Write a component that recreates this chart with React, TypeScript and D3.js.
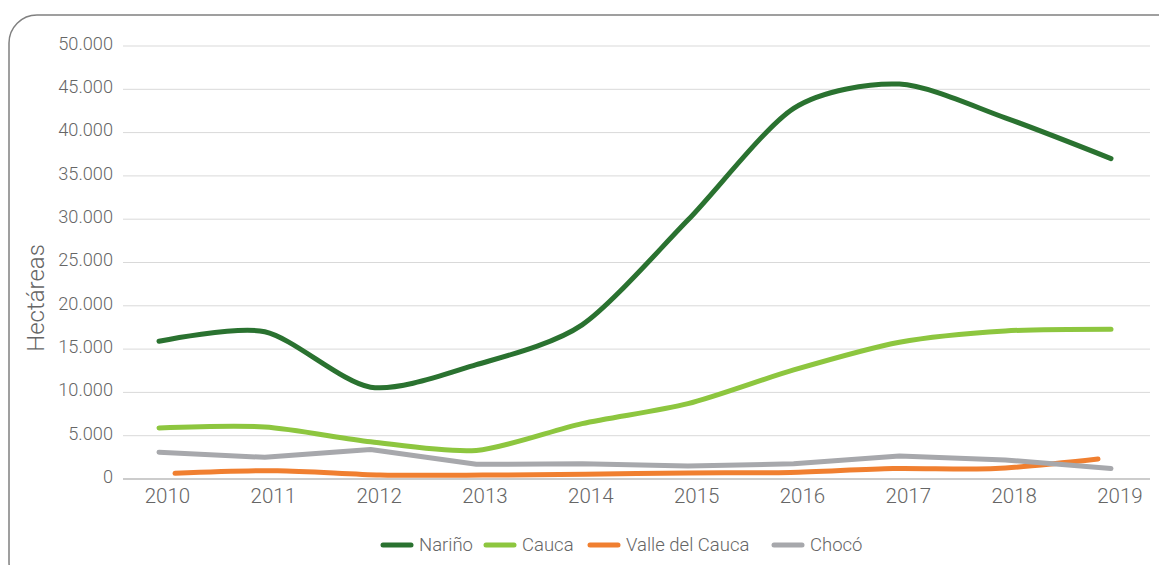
import React from "react";
import * as d3 from "d3";

const years = [2010, 2011, 2012, 2013, 2014, 2015, 2016, 2017, 2018, 2019];
const narino = [15900, 17000, 10600, 13200, 17800, 29900, 42800, 45600, 41700, 37000];
const cauca = [5900, 6000, 4300, 3300, 6400, 8700, 12600, 15800, 17100, 17300];
const valle = [660, 960, 460, 450, 550, 700, 750, 1200, 1200, 2300];
const choco = [3100, 2500, 3400, 1700, 1750, 1500, 1750, 2650, 2200, 1200];
const yTicks = [0, 5000, 10000, 15000, 20000, 25000, 30000, 35000, 40000, 45000, 50000];

const FONT = "Roboto, 'Liberation Sans', sans-serif";

export default function App() {
  const W = 1159, H = 565;
  const y = d3.scaleLinear().domain([0, 50000]).range([479, 46]);
  const xLabel = d3.scalePoint<number>().domain(years).range([167.5, 1120]);
  const xMain = d3.scalePoint<number>().domain(years).range([159, 1111]);
  const xValle = d3.scalePoint<number>().domain(years).range([175, 1098]);
  const fmt = (v: number) => d3.format(",")(v).replace(/,/g, ".");

  const smooth = (xs: d3.ScalePoint<number>, vals: number[]) =>
    d3.line<number>().x((_, i) => xs(years[i])!).y((v) => y(v)).curve(d3.curveCardinal.tension(0.2))(vals) || "";
  const straight = (xs: d3.ScalePoint<number>, vals: number[]) =>
    d3.line<number>().x((_, i) => xs(years[i])!).y((v) => y(v)).curve(d3.curveLinear)(vals) || "";

  const series = [
    { name: "Nariño", color: "#2a7230", d: smooth(xMain, narino) },
    { name: "Cauca", color: "#8dc63f", d: smooth(xMain, cauca) },
    { name: "Valle del Cauca", color: "#f07f30", d: smooth(xValle, valle) },
    { name: "Chocó", color: "#a7a8ac", d: straight(xMain, choco) },
  ];
  const legend = [
    { name: "Nariño", color: "#2a7230", x: 383 },
    { name: "Cauca", color: "#8dc63f", x: 486 },
    { name: "Valle del Cauca", color: "#f07f30", x: 590 },
    { name: "Chocó", color: "#a7a8ac", x: 774 },
  ];

  return (
    <svg width={W} height={H} style={{ position: "absolute", left: 0, top: 0, display: "block" }}>
      <rect x={0} y={0} width={W} height={H} fill="#fff" />
      <rect x={9} y={15} width={1180} height={575} rx={28} ry={28} fill="none" stroke="#808080" strokeWidth={1.5} />
      {yTicks.map((t) => (
        <g key={t}>
          {t > 0 && <line x1={123} x2={1150} y1={y(t)} y2={y(t)} stroke="#d9d9d9" strokeWidth={1} />}
          <text x={113} y={y(t) - 2.5} dy="0.35em" textAnchor="end" fontFamily={FONT} fontWeight={300} fontSize={18.2} fill="#666">
            {fmt(t)}
          </text>
        </g>
      ))}
      <line x1={123} x2={1150} y1={y(0)} y2={y(0)} stroke="#9a9a9a" strokeWidth={1.2} />
      {years.map((yr) => (
        <text key={yr} x={xLabel(yr)} y={503} textAnchor="middle" fontFamily={FONT} fontWeight={300} fontSize={20.5} fill="#666">
          {yr}
        </text>
      ))}
      <text transform={`translate(44,298) rotate(-90)`} textAnchor="middle" fontFamily={FONT} fontWeight={300} fontSize={24} fill="#666">
        Hectáreas
      </text>
      {series.map((s) => (
        <path key={s.name} d={s.d} fill="none" stroke={s.color} strokeWidth={5} strokeLinecap="round" strokeLinejoin="round" />
      ))}
      {legend.map((l) => (
        <g key={l.name}>
          <line x1={l.x} x2={l.x + 28} y1={545} y2={545} stroke={l.color} strokeWidth={5} strokeLinecap="round" />
          <text x={l.x + 36} y={545} dy="0.35em" fontFamily={FONT} fontWeight={300} fontSize={18.5} fill="#666">
            {l.name}
          </text>
        </g>
      ))}
    </svg>
  );
}
